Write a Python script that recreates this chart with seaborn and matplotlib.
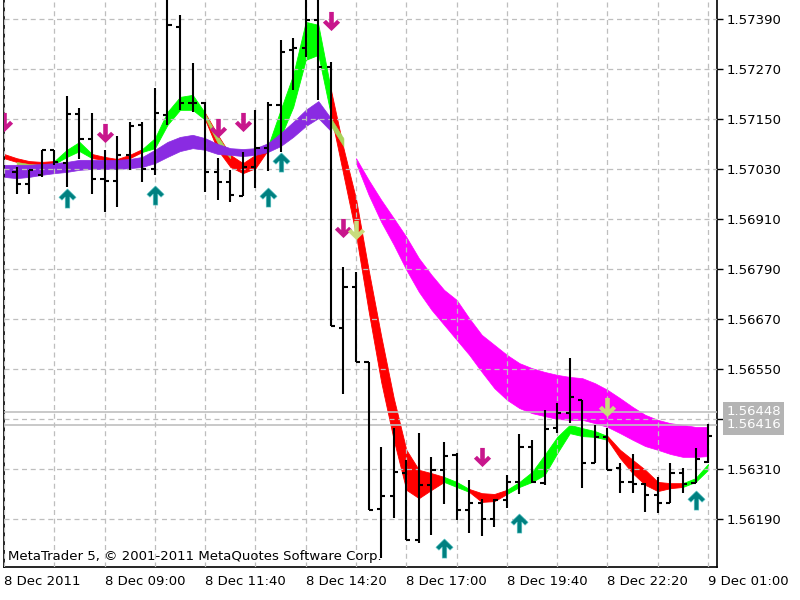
import numpy as np
import pandas as pd
import seaborn as sns
import matplotlib.pyplot as plt
import matplotlib.transforms as mtransforms
from matplotlib.path import Path

# M20 bars, 8 Dec 2011 -> 9 Dec 01:00 (bar index 0..55)
bar_open = [1.57023, 1.56994, 1.57016, 1.57076, 1.57044, 1.57162, 1.57102, 1.57006,
            1.57001, 1.57064, 1.57136, 1.57030, 1.57160, 1.57371, 1.57188, 1.57188,
            1.57023, 1.56999, 1.56965, 1.57035, 1.57080, 1.57184, 1.57316, 1.57320,
            1.57388, 1.57275, 1.56648, 1.56747, 1.56567, 1.56214, 1.56245, 1.56300,
            1.56140, 1.56272, 1.56308, 1.56344, 1.56212, 1.56228, 1.56190, 1.56236,
            1.56279, 1.56363, 1.56276, 1.56408, 1.56444, 1.56476, 1.56324, 1.56387,
            1.56312, 1.56279, 1.56274, 1.56248, 1.56228, 1.56300, 1.56276, 1.56327]
bar_high = [1.57035, 1.57028, 1.57076, 1.57076, 1.57205, 1.57176, 1.57164, 1.57076,
            1.57109, 1.57143, 1.57143, 1.57224, 1.57472, 1.57400, 1.57284, 1.57191,
            1.57056, 1.57028, 1.57071, 1.57172, 1.57191, 1.57340, 1.57344, 1.57472,
            1.57472, 1.57287, 1.56795, 1.56783, 1.56567, 1.56363, 1.56408, 1.56332,
            1.56396, 1.56339, 1.56375, 1.56348, 1.56284, 1.56238, 1.56238, 1.56296,
            1.56394, 1.56380, 1.56452, 1.56468, 1.56576, 1.56476, 1.56416, 1.56408,
            1.56324, 1.56346, 1.56276, 1.56291, 1.56324, 1.56312, 1.56360, 1.56418]
bar_low = [1.56970, 1.56970, 1.57011, 1.57040, 1.56987, 1.57054, 1.56970, 1.56927,
           1.56939, 1.57028, 1.56999, 1.57016, 1.57136, 1.57172, 1.57167, 1.56975,
           1.56956, 1.56951, 1.56965, 1.56984, 1.57025, 1.57071, 1.57220, 1.57299,
           1.57196, 1.56653, 1.56490, 1.56567, 1.56212, 1.56096, 1.56192, 1.56140,
           1.56132, 1.56152, 1.56226, 1.56188, 1.56156, 1.56149, 1.56171, 1.56216,
           1.56250, 1.56276, 1.56272, 1.56396, 1.56420, 1.56264, 1.56324, 1.56308,
           1.56252, 1.56252, 1.56207, 1.56204, 1.56228, 1.56252, 1.56276, 1.56324]
bar_close = [1.56994, 1.57028, 1.57076, 1.57047, 1.57162, 1.57102, 1.57006, 1.57001,
             1.57064, 1.57133, 1.57030, 1.57164, 1.57376, 1.57188, 1.57188, 1.57023,
             1.56999, 1.56968, 1.57035, 1.57080, 1.57184, 1.57311, 1.57320, 1.57388,
             1.57275, 1.56653, 1.56747, 1.56567, 1.56212, 1.56245, 1.56303, 1.56140,
             1.56272, 1.56308, 1.56341, 1.56212, 1.56228, 1.56190, 1.56236, 1.56279,
             1.56363, 1.56279, 1.56406, 1.56444, 1.56483, 1.56324, 1.56387, 1.56308,
             1.56279, 1.56274, 1.56248, 1.56228, 1.56300, 1.56274, 1.56334, 1.56389]

# slow ribbon: purple part (bars -1..25), magenta part (bars 27..55)
purple_top = [1.57040, 1.57040, 1.57040, 1.57042, 1.57044, 1.57047, 1.57052, 1.57052, 1.57052,
              1.57052, 1.57054, 1.57059, 1.57076, 1.57095, 1.57107, 1.57112, 1.57104, 1.57090,
              1.57080, 1.57078, 1.57080, 1.57092, 1.57116, 1.57143, 1.57172, 1.57193, 1.57152]
purple_bot = [1.57011, 1.57008, 1.57011, 1.57016, 1.57020, 1.57023, 1.57028, 1.57030, 1.57030,
              1.57030, 1.57032, 1.57035, 1.57044, 1.57059, 1.57073, 1.57080, 1.57076, 1.57066,
              1.57064, 1.57061, 1.57064, 1.57071, 1.57085, 1.57107, 1.57133, 1.57152, 1.57121]
magenta_top = [1.57056, 1.57004, 1.56956, 1.56912, 1.56867, 1.56816, 1.56776, 1.56740, 1.56716,
               1.56672, 1.56632, 1.56608, 1.56584, 1.56564, 1.56552, 1.56543, 1.56536, 1.56531,
               1.56528, 1.56516, 1.56500, 1.56480, 1.56459, 1.56440, 1.56428, 1.56420, 1.56416,
               1.56411, 1.56411]
magenta_bot = [1.57044, 1.56968, 1.56903, 1.56848, 1.56788, 1.56735, 1.56692, 1.56656, 1.56620,
               1.56584, 1.56543, 1.56504, 1.56476, 1.56456, 1.56444, 1.56437, 1.56430, 1.56428,
               1.56428, 1.56420, 1.56411, 1.56396, 1.56380, 1.56365, 1.56356, 1.56346, 1.56339,
               1.56339, 1.56341]

# fast ribbon, bars -1..55, colour = trend from this bar to the next
fast_top = [1.57066, 1.57056, 1.57049, 1.57047, 1.57049, 1.57076, 1.57095, 1.57066, 1.57059,
            1.57054, 1.57064, 1.57078, 1.57104, 1.57167, 1.57203, 1.57208, 1.57164, 1.57112,
            1.57064, 1.57044, 1.57064, 1.57085, 1.57172, 1.57256, 1.57383, 1.57376, 1.57220,
            1.57080, 1.56958, 1.56788, 1.56629, 1.56480, 1.56356, 1.56308, 1.56300, 1.56291,
            1.56279, 1.56262, 1.56252, 1.56250, 1.56260, 1.56279, 1.56303, 1.56344, 1.56387,
            1.56416, 1.56408, 1.56401, 1.56389, 1.56356, 1.56332, 1.56308, 1.56279, 1.56276,
            1.56276, 1.56288, 1.56322]
fast_bot = [1.57056, 1.57047, 1.57042, 1.57040, 1.57042, 1.57059, 1.57073, 1.57056, 1.57052,
            1.57047, 1.57056, 1.57071, 1.57080, 1.57136, 1.57172, 1.57172, 1.57148, 1.57076,
            1.57035, 1.57020, 1.57032, 1.57076, 1.57107, 1.57179, 1.57292, 1.57304, 1.57160,
            1.57016, 1.56872, 1.56689, 1.56519, 1.56380, 1.56260, 1.56240, 1.56260, 1.56279,
            1.56267, 1.56255, 1.56231, 1.56233, 1.56250, 1.56267, 1.56279, 1.56296, 1.56348,
            1.56396, 1.56389, 1.56387, 1.56380, 1.56336, 1.56300, 1.56272, 1.56257, 1.56264,
            1.56267, 1.56279, 1.56308]
fast_trend = list("rrrrgggrrrrgggggrrrrrgggggrrrrrrrrrggrrrggggggggrrrrrrggg")

# crossing highlights (yellow-green)
cross_bars = [[0, 1, 2, 3], [15, 16, 17], [25, 26]]
cross_top = [[1.57047, 1.57042, 1.57040, 1.57042], [1.57162, 1.57109, 1.57064], [1.57152, 1.57104]]
cross_bot = [[1.57040, 1.57035, 1.57032, 1.57037], [1.57152, 1.57092, 1.57056], [1.57133, 1.57085]]

# signal arrows
sell_bars = [-1, 7, 16, 18, 25, 26, 37]
sell_price = [1.57143, 1.57116, 1.57128, 1.57143, 1.57385, 1.56888, 1.56339]
sell2_bars = [27, 47]
sell2_price = [1.56884, 1.56459]
buy_bars = [4, 11, 20, 21, 34, 40, 54]
buy_price = [1.56960, 1.56968, 1.56963, 1.57047, 1.56120, 1.56180, 1.56236]

ask_price = 1.56448
bid_price = 1.56416

y_ticks = [1.56190, 1.56310, 1.56430, 1.56550, 1.56670, 1.56790, 1.56910, 1.57030,
           1.57150, 1.57270, 1.57390]
x_tick_bars = [-1, 7, 15, 23, 31, 39, 47, 55]
x_tick_labels = ["8 Dec 2011", "8 Dec 09:00", "8 Dec 11:40", "8 Dec 14:20",
                 "8 Dec 17:00", "8 Dec 19:40", "8 Dec 22:20", "9 Dec 01:00"]

sns.set_style("white")
plt.rcParams['font.family'] = ['DejaVu Sans']

bars = pd.DataFrame({"bar": np.arange(len(bar_open)), "open": bar_open,
                     "high": bar_high, "low": bar_low, "close": bar_close})
fast = pd.DataFrame({"bar": np.arange(-1, 56), "top": fast_top, "bot": fast_bot,
                     "trend": fast_trend})

fig = plt.figure(figsize=(8, 6), dpi=100)
ax = fig.add_axes([4 / 800, 33 / 600, 713 / 800, 567 / 600])

# fast ribbon, one fill per run of the same trend
colors = {"r": "#FF0000", "g": "#00FF00"}
start = 0
for i in range(1, len(fast)):
    if i == len(fast) - 1 or fast.trend[i] != fast.trend[start]:
        seg = fast.iloc[start:i + 1]
        c = colors[fast.trend[start]]
        ax.fill_between(seg.bar, seg.top, seg.bot, color=c, lw=0.6, zorder=1.0)
        start = i

for b, t, d in zip(cross_bars, cross_top, cross_bot):
    ax.fill_between(b, t, d, color="#A8D45A", lw=0.4, zorder=1.1)

# slow ribbon
ax.fill_between(np.arange(-1, 26), purple_top, purple_bot, color="#8A2BE2", lw=0.5, zorder=1.2)
ax.fill_between(np.arange(27, 56), magenta_top, magenta_bot, color="#FF00FF", lw=0.5, zorder=1.2)

# bid / ask lines
ax.axhline(ask_price, color="#C0C0C0", lw=1.2, zorder=2.6)
ax.axhline(bid_price, color="#C0C0C0", lw=1.2, zorder=2.6)

# OHLC bars
ax.vlines(bars.bar, bars.low, bars.high, color="black", lw=1.5, zorder=3)
ax.hlines(bars.open, bars.bar - 0.33, bars.bar, color="black", lw=1.5, zorder=3)
ax.hlines(bars.close, bars.bar, bars.bar + 0.33, color="black", lw=1.5, zorder=3)

# arrow markers (thick shaft + chevron head)
up_verts = [(0, 1), (0.9, 0.12), (0.58, -0.18), (0.24, 0.16), (0.24, -1), (-0.24, -1),
            (-0.24, 0.16), (-0.58, -0.18), (-0.9, 0.12), (0, 1)]
codes = [Path.MOVETO] + [Path.LINETO] * 8 + [Path.CLOSEPOLY]
up_arrow = Path(up_verts, codes)
down_arrow = Path([(x, -y) for x, y in up_verts], codes)

sns.scatterplot(x=sell_bars, y=sell_price, marker=down_arrow, s=190, color="#C8168C",
                linewidth=0, ax=ax, zorder=5, legend=False)
sns.scatterplot(x=sell2_bars, y=sell2_price, marker=down_arrow, s=190, color="#C8DC7D",
                linewidth=0, ax=ax, zorder=5, legend=False)
sns.scatterplot(x=buy_bars, y=buy_price, marker=up_arrow, s=190, color="#008080",
                edgecolor="#5CC8C8", linewidth=0.4, ax=ax, zorder=5, legend=False)

ax.set_xlim(-1.0, 55.71)
ax.set_ylim(1.560748, 1.574356)

# axes, ticks, grid
ax.yaxis.tick_right()
ax.set_yticks(y_ticks)
ax.set_yticklabels(["" if abs(v - 1.56430) < 1e-6 else f"{v:.5f}" for v in y_ticks])
ax.set_xticks(x_tick_bars)
ax.set_xticklabels(x_tick_labels)
ax.set_xticks(np.arange(-1, 56, 4), minor=True)
for lbl in ax.get_xticklabels():
    lbl.set_horizontalalignment("left")
ax.tick_params(axis="both", which="major", direction="out", length=4, width=1,
               colors="black", labelsize=9.5)
ax.tick_params(axis="y", pad=3)
ax.tick_params(axis="x", pad=2)
ax.tick_params(axis="x", which="minor", length=0)
ax.set_axisbelow(False)
grid_kw = dict(color="#BEBEBE", linestyle=(0, (4, 3)), linewidth=0.9)
ax.grid(True, axis="y", which="major", **grid_kw)
ax.grid(True, axis="x", which="both", **grid_kw)
ax.set_xlabel("")
ax.set_ylabel("")

for side in ["left", "right", "bottom"]:
    ax.spines[side].set_visible(True)
    ax.spines[side].set_color("black")
    ax.spines[side].set_linewidth(1.2)
ax.spines["top"].set_visible(False)

# price labels on the right scale
trans = mtransforms.blended_transform_factory(ax.transAxes, ax.transData)
for p in [ask_price, bid_price]:
    ax.text(1.013, p, f"{p:.5f}", transform=trans, ha="left", va="center", color="white",
            fontsize=9.5, clip_on=False, zorder=6,
            bbox=dict(boxstyle="square,pad=0.25", fc="#B4B4B4", ec="none"))

ax.text(0.006, 0.019, "MetaTrader 5, \u00a9 2001-2011 MetaQuotes Software Corp.",
        transform=ax.transAxes, ha="left", va="center", fontsize=9.5, color="black", zorder=6)

fig.savefig("out.png", dpi=100)
